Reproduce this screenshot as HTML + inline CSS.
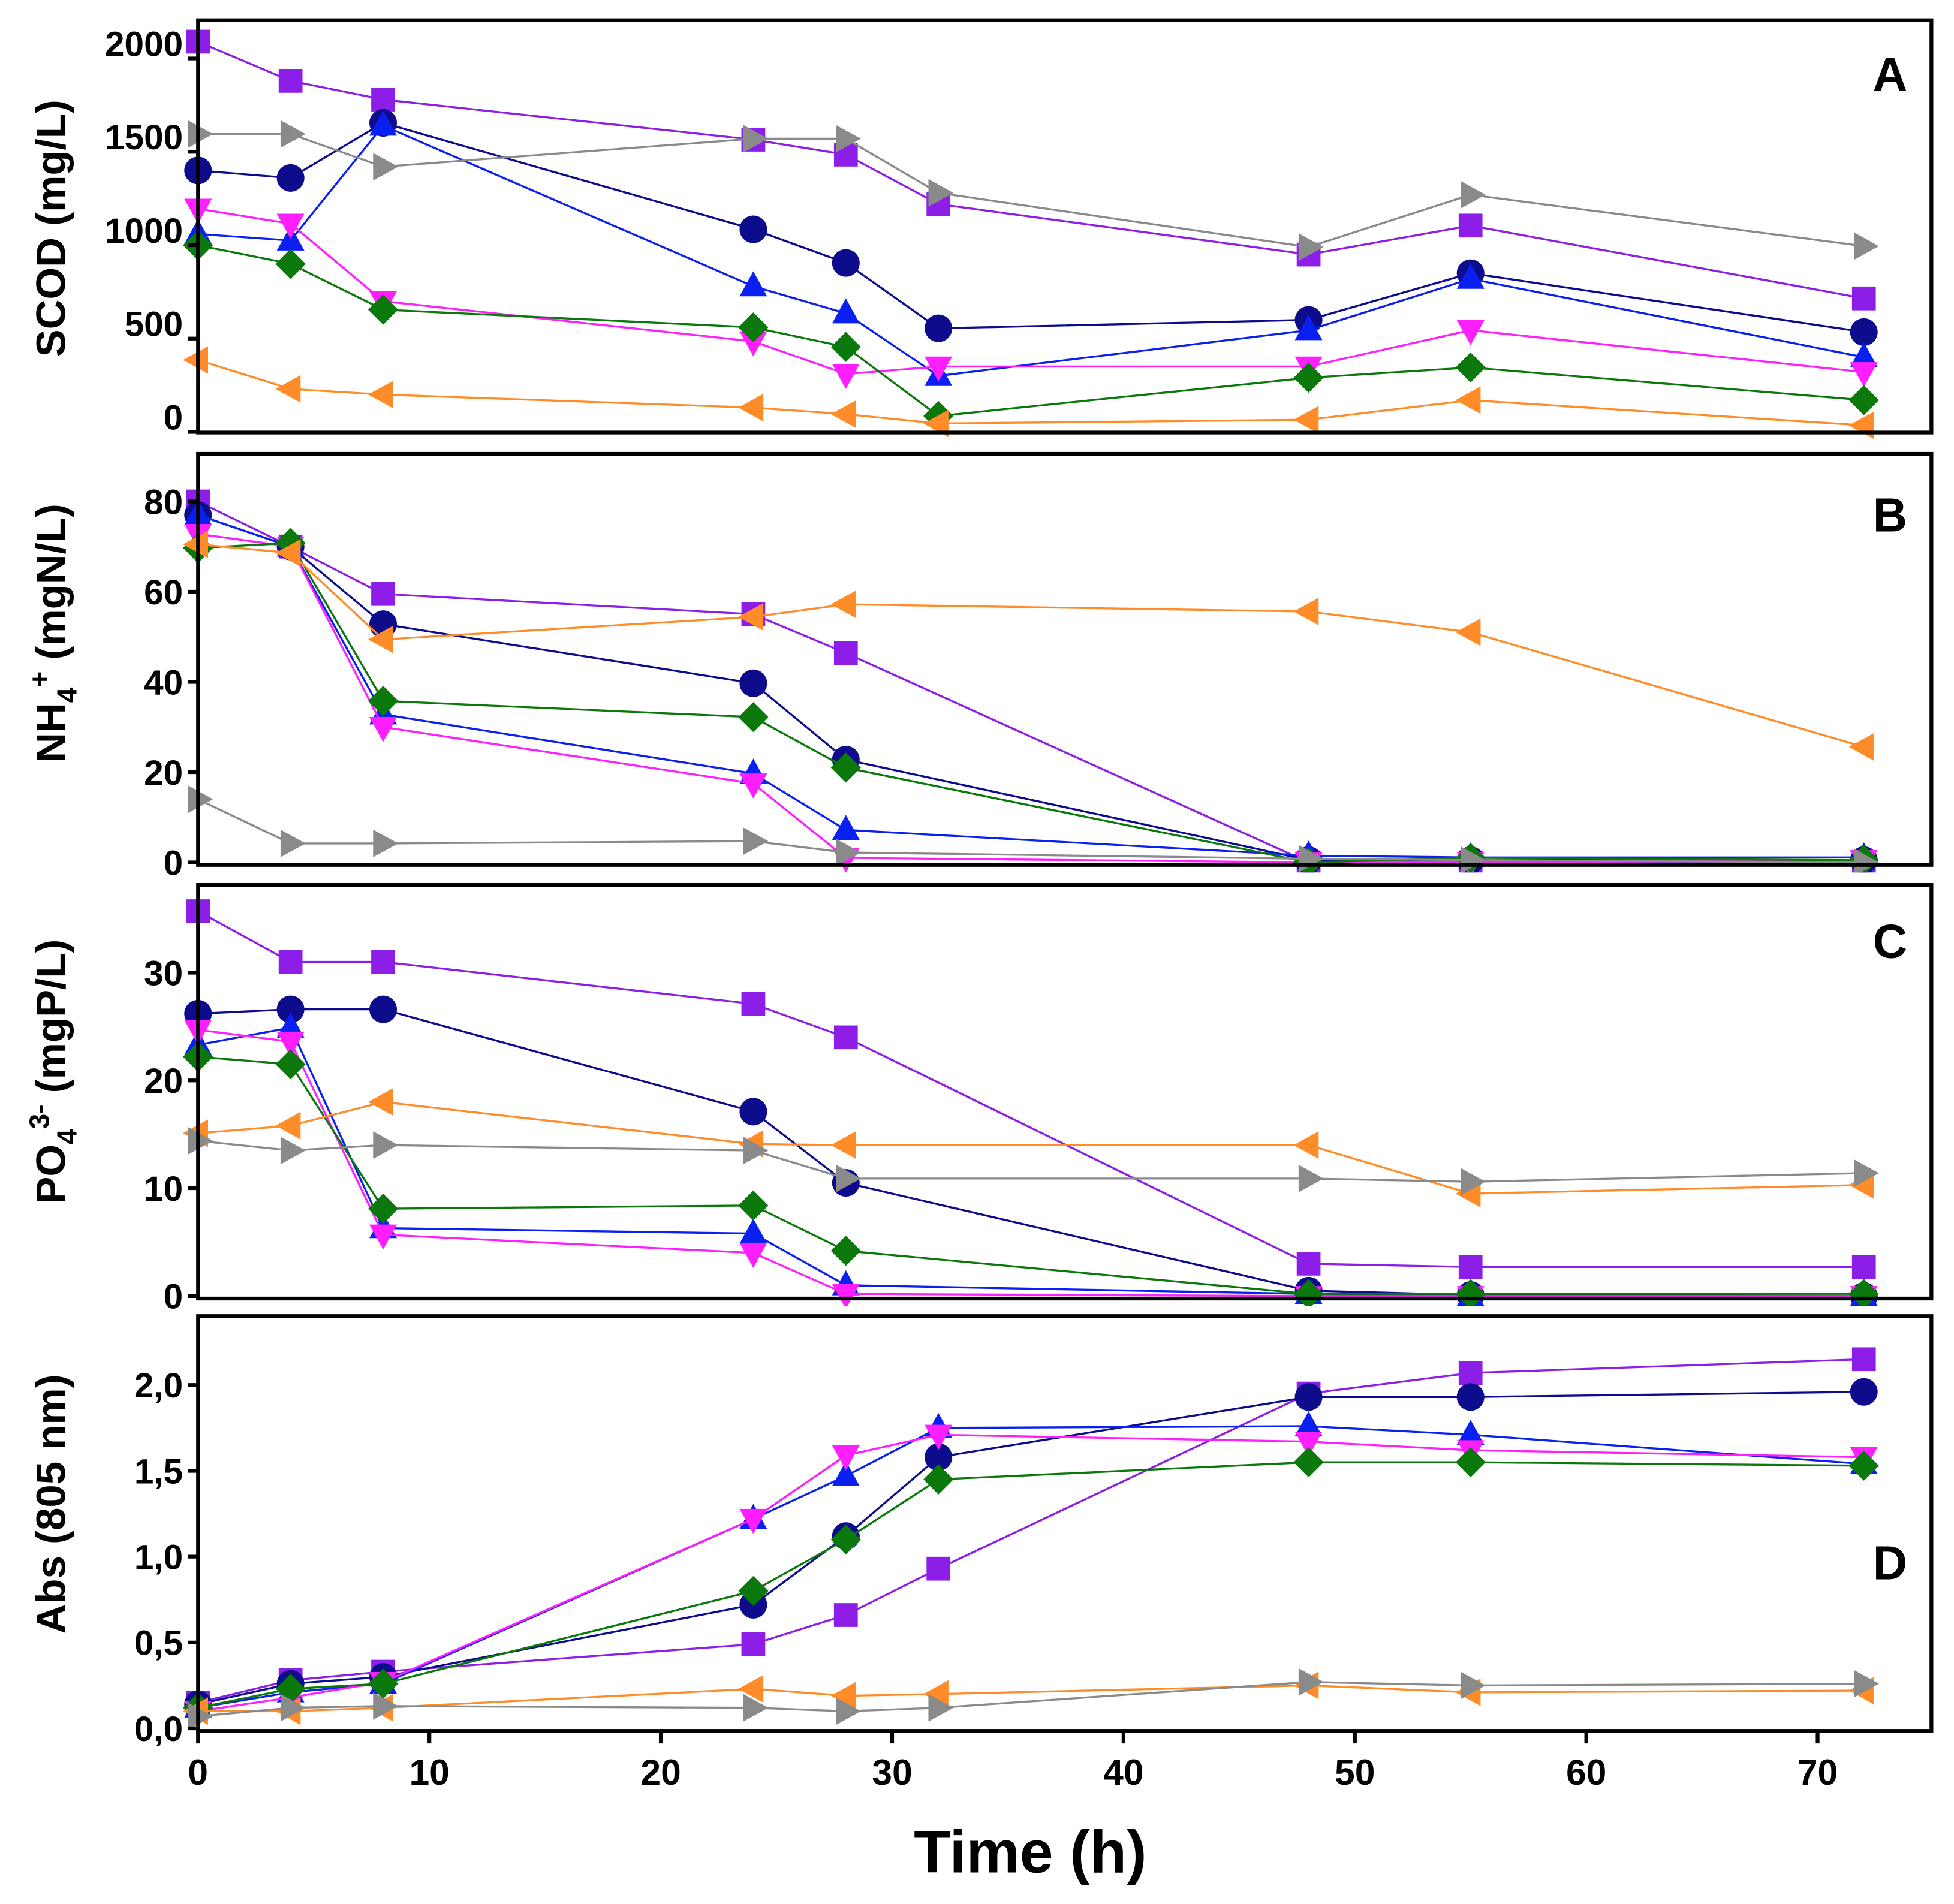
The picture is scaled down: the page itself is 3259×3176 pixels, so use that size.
<!DOCTYPE html>
<html><head><meta charset="utf-8"><title>Time course chart</title>
<style>html,body{margin:0;padding:0;background:#fff}svg{display:block}text{font-family:"Liberation Sans",sans-serif;font-weight:bold;fill:#000}</style>
</head><body>
<svg id="chart" width="3259" height="3176" viewBox="0 0 1559 1519" xmlns="http://www.w3.org/2000/svg"></svg>
<script>
const times = [0, 4, 8, 24, 28, 32, 48, 55, 72];
const xTicks = [0, 10, 20, 30, 40, 50, 60, 70];
const seriesNames = ['purple-square', 'navy-circle', 'blue-triangle-up', 'magenta-triangle-down', 'green-diamond', 'orange-triangle-left', 'grey-triangle-right'];
// Panel A SCOD
const scodPurple = [2090, 1880, 1780, 1565, 1485, 1220, 950, 1105, 715];
const scodNavy = [1400, 1360, 1655, 1085, 905, 555, 600, 850, 535];
const scodBlue = [1060, 1025, 1640, 780, 635, 300, 545, 820, 400];
const scodMagenta = [1195, 1115, 700, 485, 310, 350, 350, 545, 320];
const scodGreen = [1000, 900, 655, 560, 455, 85, 290, 345, 170];
const scodOrange = [385, 230, 200, 130, 95, 45, 65, 170, 35];
const scodGrey = [1595, 1595, 1420, 1570, 1570, 1280, 990, 1270, 995];
const scodTicks = [0, 500, 1000, 1500, 2000];
// Panel B NH4
const nhPurple = [80, 70, 59.5, 55, 46.4, null, 0, 0, 0];
const nhNavy = [77, 70, 52.8, 39.7, 22.8, null, 0.5, 0.5, 0.5];
const nhBlue = [77, 70, 32.8, 19.7, 7.2, null, 1.5, 1.1, 1.1];
const nhMagenta = [72.8, 70, 30, 17.5, 1, null, 0, 0, 0.5];
const nhGreen = [69.7, 70.8, 35.8, 32.2, 21, null, 0, 1, 0.5];
const nhOrange = [70.5, 68.6, 49.4, 54.4, 57.2, null, 55.6, 51, 25.6];
const nhGrey = [14, 4.2, 4.2, 4.7, 2.2, null, 0.8, 0.5, 0];
const nhTicks = [0, 20, 40, 60, 80];
// Panel C PO4
const poPurple = [35.7, 31, 31, 27.1, 24, null, 3, 2.7, 2.7];
const poNavy = [26.2, 26.6, 26.6, 17.1, 10.5, null, 0.5, 0.1, 0];
const poBlue = [23.3, 24.9, 6.3, 5.8, 1, null, 0.2, 0, 0];
const poMagenta = [24.7, 23.6, 5.7, 4, 0.2, null, 0, 0, 0];
const poGreen = [22.2, 21.5, 8.1, 8.4, 4.2, null, 0.2, 0.2, 0.2];
const poOrange = [15.1, 15.8, 18, 14.1, 14, null, 14, 9.5, 10.3];
const poGrey = [14.4, 13.5, 14, 13.5, 10.9, null, 10.9, 10.6, 11.4];
const poTicks = [0, 10, 20, 30];
// Panel D Abs
const absPurple = [0.15, 0.28, 0.33, 0.49, 0.66, 0.93, 1.95, 2.07, 2.15];
const absNavy = [0.14, 0.26, 0.3, 0.72, 1.12, 1.58, 1.93, 1.93, 1.96];
const absBlue = [0.12, 0.21, 0.26, 1.22, 1.47, 1.75, 1.76, 1.71, 1.54];
const absMagenta = [0.1, 0.18, 0.27, 1.22, 1.59, 1.71, 1.67, 1.62, 1.58];
const absGreen = [0.12, 0.23, 0.26, 0.8, 1.1, 1.45, 1.55, 1.55, 1.53];
const absOrange = [0.1, 0.1, 0.12, 0.23, 0.19, 0.2, 0.25, 0.21, 0.22];
const absGrey = [0.07, 0.12, 0.13, 0.12, 0.1, 0.12, 0.27, 0.25, 0.26];
const absTicks = [0, 0.5, 1, 1.5, 2];

const NS = 'http://www.w3.org/2000/svg';
const svg = document.getElementById('chart');
const colors = ['#8c1ee8', '#0c0c8c', '#0a20f0', '#ff1eff', '#0a780a', '#ff8c28', '#8a8a8a'];
const shapes = ['square', 'circle', 'up', 'down', 'diamond', 'left', 'right'];
const X0 = 158, XR = 1541, XS = 18.46;
function xPos(t) { return X0 + t * XS; }
function mk(tag, attrs, parent) {
  const e = document.createElementNS(NS, tag);
  for (const k in attrs) e.setAttribute(k, attrs[k]);
  (parent || svg).appendChild(e);
  return e;
}
const panels = [
  {key: 'scod', top: 16, bottom: 345, y0: 344.5, k: 0.149, ticks: scodTicks, labOff: -12, fmt: v => String(v), letter: 'A', letterY: 72,
   data: [scodPurple, scodNavy, scodBlue, scodMagenta, scodGreen, scodOrange, scodGrey]},
  {key: 'nh4', top: 362, bottom: 690, y0: 688, k: 3.6, ticks: nhTicks, labOff: 0, fmt: v => String(v), letter: 'B', letterY: 424,
   data: [nhPurple, nhNavy, nhBlue, nhMagenta, nhGreen, nhOrange, nhGrey]},
  {key: 'po4', top: 706, bottom: 1036, y0: 1034, k: 8.6, ticks: poTicks, labOff: 0, fmt: v => String(v), letter: 'C', letterY: 764,
   data: [poPurple, poNavy, poBlue, poMagenta, poGreen, poOrange, poGrey]},
  {key: 'abs', top: 1050, bottom: 1381, y0: 1379, k: 137, ticks: absTicks, labOff: 0, fmt: v => v.toFixed(1).replace('.', ','), letter: 'D', letterY: 1260,
   data: [absPurple, absNavy, absBlue, absMagenta, absGreen, absOrange, absGrey]}
];
function marker(g, shape, x, y, c) {
  let e;
  if (shape === 'square') e = mk('rect', {x: x - 9.5, y: y - 9.5, width: 19, height: 19, fill: c}, g);
  else if (shape === 'circle') e = mk('circle', {cx: x, cy: y, r: 11, fill: c}, g);
  else {
    let p;
    if (shape === 'up') p = [[x, y - 12], [x + 11, y + 8], [x - 11, y + 8]];
    if (shape === 'down') p = [[x, y + 12], [x + 11, y - 8], [x - 11, y - 8]];
    if (shape === 'left') p = [[x - 12, y], [x + 8, y - 11], [x + 8, y + 11]];
    if (shape === 'right') p = [[x + 12, y], [x - 8, y - 11], [x - 8, y + 11]];
    if (shape === 'diamond') p = [[x, y - 12], [x + 12, y], [x, y + 12], [x - 12, y]];
    e = mk('polygon', {points: p.map(q => q.join(',')).join(' '), fill: c}, g);
  }
  return e;
}
panels.forEach(P => {
  const yPos = v => P.y0 - v * P.k;
  const pg = mk('g', {});
  
  
  const clip = mk('clipPath', {id: 'clip-' + P.key}, pg);
  mk('rect', {x: X0 - 14, y: P.top - 6, width: XR - X0 + 16, height: P.bottom - P.top + 12}, clip);
  const plot = mk('g', {'clip-path': 'url(#clip-' + P.key + ')'}, pg);
  P.data.forEach((arr, si) => {
    const sg = mk('g', {}, plot);
    
    
    const pts = [];
    arr.forEach((v, i) => { if (v !== null) pts.push([xPos(times[i]), yPos(v)]); });
    const line = mk('polyline', {points: pts.map(p => p.join(',')).join(' '), fill: 'none', stroke: colors[si], 'stroke-width': 1.6}, sg);
    
    
    pts.forEach(p => {
      const m = marker(sg, shapes[si], p[0], p[1], colors[si]);
      
      
    });
  });
  const fr = mk('rect', {x: X0, y: P.top, width: XR - X0, height: P.bottom - P.top, fill: 'none', stroke: '#000', 'stroke-width': 3}, pg);
  
  
  P.ticks.forEach(v => {
    const y = yPos(v);
    mk('line', {x1: X0 - 8, x2: X0, y1: y, y2: y, stroke: '#000', 'stroke-width': 3}, pg);
    const t = mk('text', {x: 146, y: y + P.labOff + 10, 'text-anchor': 'end', 'font-size': 28}, pg);
    t.textContent = P.fmt(v);
    
    
  });
  const L = mk('text', {x: 1508, y: P.letterY, 'text-anchor': 'middle', 'font-size': 38}, pg);
  L.textContent = P.letter;
  
  
});
xTicks.forEach(t => {
  const x = xPos(t);
  mk('line', {x1: x, x2: x, y1: 1381, y2: 1391, stroke: '#000', 'stroke-width': 3});
  const tl = mk('text', {x: x, y: 1424, 'text-anchor': 'middle', 'font-size': 29});
  tl.textContent = String(t);
  
  
});
const xt = mk('text', {x: 822, y: 1494, 'text-anchor': 'middle', 'font-size': 48});
xt.textContent = 'Time (h)';


function yTitle(cy, name, build) {
  const t = mk('text', {x: 0, y: 0, 'text-anchor': 'middle', 'font-size': 33, transform: 'translate(52,' + cy + ') rotate(-90)'});
  build(t);
  
  
}
yTitle(182, 'y-axis-title-scod', t => { t.textContent = 'SCOD (mg/L)'; });
yTitle(505, 'y-axis-title-nh4', t => {
  const a = mk('tspan', {}, t); a.textContent = 'NH';
  const b = mk('tspan', {dy: 9, 'font-size': 22}, t); b.textContent = '4';
  const c = mk('tspan', {dy: -22, 'font-size': 22}, t); c.textContent = '+';
  const d = mk('tspan', {dy: 13}, t); d.textContent = ' (mgN/L)';
});
yTitle(855, 'y-axis-title-po4', t => {
  const a = mk('tspan', {}, t); a.textContent = 'PO';
  const b = mk('tspan', {dy: 9, 'font-size': 22}, t); b.textContent = '4';
  const c = mk('tspan', {dy: -22, 'font-size': 22}, t); c.textContent = '3-';
  const d = mk('tspan', {dy: 13}, t); d.textContent = ' (mgP/L)';
});
yTitle(1200, 'y-axis-title-abs', t => { t.textContent = 'Abs (805 nm)'; });
</script>
</body></html>
